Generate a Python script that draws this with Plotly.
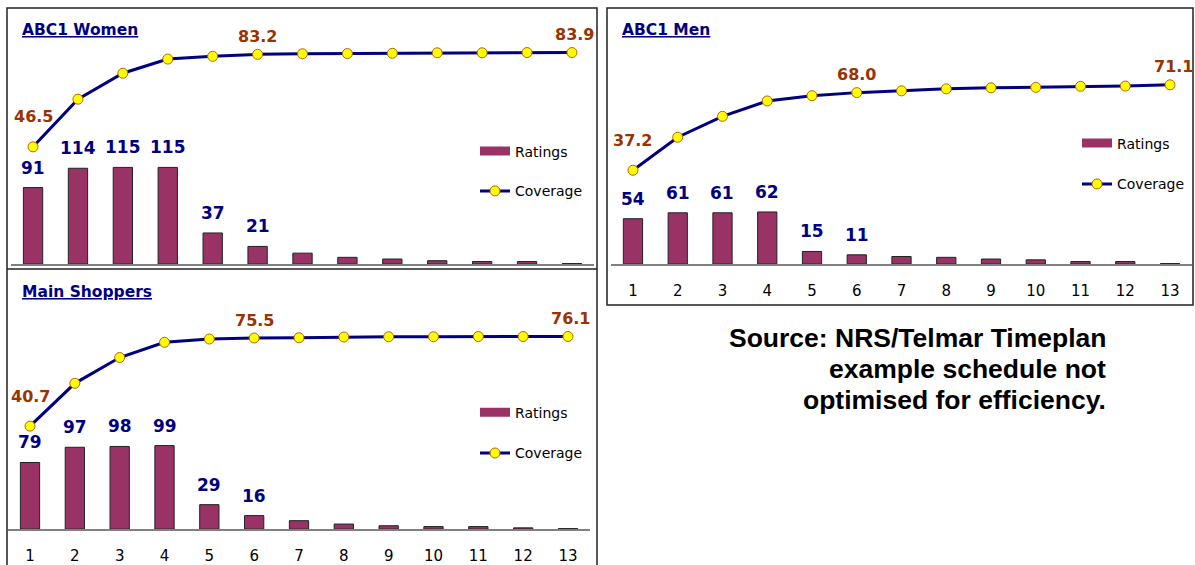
import plotly.graph_objects as go

W, H = 1195, 565

# ---------------- data ----------------
categories = list(range(1, 14))
tick_labels = [str(c) for c in categories]

women_ratings = [91, 114, 115, 115, 37, 21, 13, 8, 6, 4, 3, 3, 0.6]
women_coverage = [46.5, 65.4, 75.7, 81.3, 82.4, 83.2, 83.4, 83.5, 83.6, 83.8, 83.8, 83.9, 83.9]

men_ratings = [54, 61, 61, 62, 15, 11, 9, 8, 6, 5, 3, 3, 0.6]
men_coverage = [37.2, 50.3, 58.6, 64.7, 66.8, 68.0, 68.7, 69.5, 69.9, 70.1, 70.5, 70.6, 71.1]

shoppers_ratings = [79, 97, 98, 99, 29, 16, 10, 6, 4, 3, 3, 1.5, 0.6]
shoppers_coverage = [40.7, 57.6, 67.8, 73.8, 75.1, 75.5, 75.6, 75.9, 76.0, 76.0, 76.1, 76.1, 76.1]

panel_titles = ["ABC1 Women", "ABC1 Men", "Main Shoppers"]
series_names = ["Ratings", "Coverage"]
source_lines = ["Source: NRS/Telmar Timeplan", "example schedule not", "optimised for efficiency."]

rated_labelled = 6                 # first N bars carry a value label
coverage_labelled = [0, 5, 12]     # coverage points carrying a label

# ---------------- styles ----------------
BAR_COLOR = "#993366"
LINE_COLOR = "#000080"
MARKER_COLOR = "#FFFF00"
MARKER_EDGE = "#C06000"
RATING_LABEL_COLOR = "#000080"
COVER_LABEL_COLOR = "#993300"
CHART_FONT = "DejaVu Sans"


def px(x):
    return x / W


def py(y):
    return 1 - y / H


panels = [
    dict(title=panel_titles[0], ratings=women_ratings, coverage=women_coverage,
         xdom=(10.6, 594.4), ydom=(265, 12), ticklabels=False, standoff=12,
         title_xy=(20, 30), leg_x=475, leg_y=(152, 192)),
    dict(title=panel_titles[1], ratings=men_ratings, coverage=men_coverage,
         xdom=(610.6, 1192.4), ydom=(265, 12), ticklabels=True, standoff=12,
         title_xy=(620, 30), leg_x=1077, leg_y=(144, 185)),
    dict(title=panel_titles[2], ratings=shoppers_ratings, coverage=shoppers_coverage,
         xdom=(7.6, 590.4), ydom=(531, 277), ticklabels=True, standoff=12,
         title_xy=(20, 293), leg_x=475, leg_y=(414, 455)),
]

fig = go.Figure()
layout = dict(
    width=W, height=H,
    margin=dict(l=0, r=0, t=0, b=0),
    paper_bgcolor="white", plot_bgcolor="rgba(0,0,0,0)",
    bargap=0.57, showlegend=True,
)
annotations = []
shapes = []

for i, p in enumerate(panels):
    xn = "x" if i == 0 else f"x{i + 1}"
    yb = "y" if i == 0 else f"y{2 * i + 1}"
    yl = f"y{2 * i + 2}"
    xkey = "xaxis" if i == 0 else f"xaxis{i + 1}"
    ybkey = "yaxis" if i == 0 else f"yaxis{2 * i + 1}"
    ylkey = f"yaxis{2 * i + 2}"
    lg_r = "legend" if i == 0 else f"legend{2 * i + 1}"
    lg_c = f"legend{2 * i + 2}"

    # bars
    fig.add_trace(go.Bar(
        x=categories, y=p["ratings"], name=series_names[0], showlegend=False,
        marker=dict(color=BAR_COLOR, line=dict(color="#222222", width=1)),
        xaxis=xn, yaxis=yb, hoverinfo="x+y",
    ))
    # legend swatch for ratings
    fig.add_trace(go.Scatter(
        x=[None], y=[None], mode="lines", name=series_names[0],
        line=dict(color=BAR_COLOR, width=9), legend=lg_r, xaxis=xn, yaxis=yb,
    ))
    # coverage line
    fig.add_trace(go.Scatter(
        x=categories, y=p["coverage"], mode="lines+markers", name=series_names[1],
        line=dict(color=LINE_COLOR, width=3),
        marker=dict(color=MARKER_COLOR, size=10, line=dict(color=MARKER_EDGE, width=1)),
        legend=lg_c, xaxis=xn, yaxis=yl, cliponaxis=False,
    ))

    layout[xkey] = dict(
        domain=[px(p["xdom"][0]), px(p["xdom"][1])], range=[0.5, 13.5],
        anchor=yb, tickmode="array", tickvals=categories, ticktext=tick_labels,
        showticklabels=p["ticklabels"], ticks="", ticklabelstandoff=p["standoff"],
        showline=True, linecolor="#808080", linewidth=1.5,
        showgrid=False, zeroline=False,
        tickfont=dict(family=CHART_FONT, size=15, color="black"),
    )
    layout[ybkey] = dict(domain=[py(p["ydom"][0]), py(p["ydom"][1])], range=[0, 300],
                         anchor=xn, visible=False)
    layout[ylkey] = dict(range=[0, 100], overlaying=yb, anchor=xn, visible=False)

    legfont = dict(family=CHART_FONT, size=14, color="black")
    layout[lg_r] = dict(x=px(p["leg_x"]), xanchor="left", y=py(p["leg_y"][0]), yanchor="middle",
                        bgcolor="rgba(0,0,0,0)", borderwidth=0, font=legfont)
    layout[lg_c] = dict(x=px(p["leg_x"]), xanchor="left", y=py(p["leg_y"][1]), yanchor="middle",
                        bgcolor="rgba(0,0,0,0)", borderwidth=0, font=legfont)

    # rating value labels
    for k in range(rated_labelled):
        annotations.append(dict(
            x=categories[k], y=p["ratings"][k], xref=xn, yref=yb,
            text=f"{p['ratings'][k]:.0f}", showarrow=False, yanchor="middle", yshift=20,
            font=dict(family=CHART_FONT, size=17, color=RATING_LABEL_COLOR, weight="bold"),
        ))
    # coverage value labels
    for k in coverage_labelled:
        annotations.append(dict(
            x=categories[k], y=p["coverage"][k], xref=xn, yref=yl,
            text=f"{p['coverage'][k]:.1f}", showarrow=False, yanchor="middle",
            yshift=30 if k == 0 else 18, xshift=3 if k == len(categories) - 1 else 0,
            font=dict(family=CHART_FONT, size=16, color=COVER_LABEL_COLOR, weight="bold"),
        ))
    # panel title
    annotations.append(dict(
        x=px(p["title_xy"][0]), y=py(p["title_xy"][1]), xref="paper", yref="paper",
        xanchor="left", yanchor="middle", showarrow=False, text=f"<u>{p['title']}</u>",
        font=dict(family=CHART_FONT, size=15.5, color="#000080", weight="bold"),
    ))

# panel frames
frame = dict(type="rect", xref="paper", yref="paper", line=dict(color="#222222", width=1.5),
             fillcolor="rgba(0,0,0,0)", layer="above")
shapes.append(dict(frame, x0=px(7), x1=px(597), y0=py(575), y1=py(8)))
shapes.append(dict(type="line", xref="paper", yref="paper", x0=px(7), x1=px(597),
                   y0=py(270), y1=py(270), line=dict(color="#222222", width=1.5), layer="above"))
shapes.append(dict(frame, x0=px(607), x1=px(1193), y0=py(306), y1=py(8)))

# source note
for j, (line, yy) in enumerate(zip(source_lines, [339, 370, 401])):
    annotations.append(dict(
        x=px(1108), y=py(yy), xref="paper", yref="paper", xanchor="right", yanchor="middle",
        showarrow=False, text=line, align="right",
        font=dict(family="Liberation Sans", size=26.5, color="black", weight="bold"),
    ))

layout["annotations"] = annotations
layout["shapes"] = shapes
fig.update_layout(**layout)

fig.write_html(
    "out.html",
    config={"displayModeBar": False},
    post_script="document.body.style.margin='0';document.body.style.overflow='hidden';",
)
